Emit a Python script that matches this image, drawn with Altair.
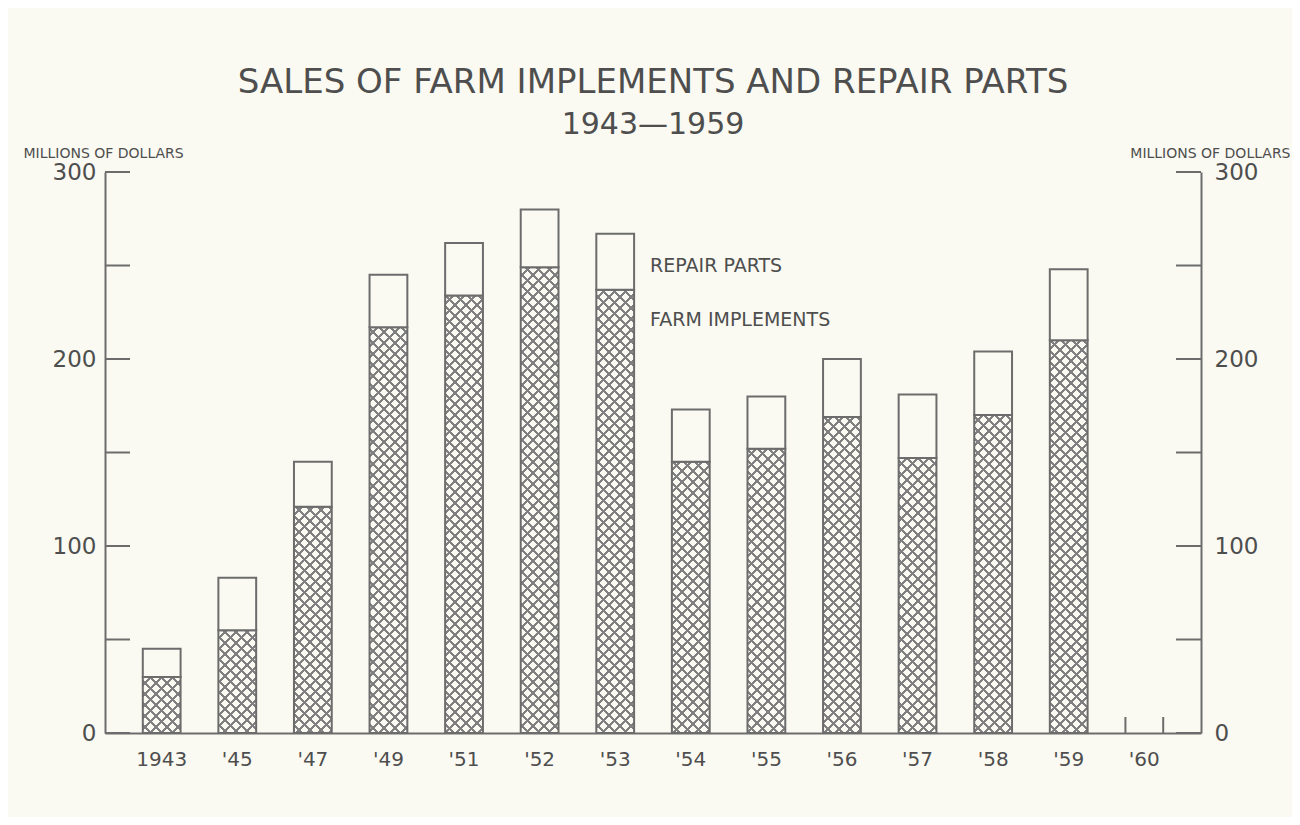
import math
import altair as alt

# ---------------- data ----------------
years = ["1943", "'45", "'47", "'49", "'51", "'52", "'53",
         "'54", "'55", "'56", "'57", "'58", "'59", "'60"]
implements = [30, 55, 121, 217, 234, 249, 237, 145, 152, 169, 147, 170, 210]
repair_parts = [15, 28, 24, 28, 28, 31, 30, 28, 28, 31, 34, 34, 38]
tick_values = [0, 50, 100, 150, 200, 250, 300]
label_values = [0, 100, 200, 300]
note_labels = ["REPAIR PARTS", "FARM IMPLEMENTS"]
note_year = "'53"
note_values = [250, 221]

# ---------------- styling / layout ----------------
W, H = 1096, 561
YMAX = 300
BG = "#fafaf2"
INK = "#6c6c6c"
TEXT = "#4e4e4e"
HATCH = "#808080"
FONT = "DejaVu Sans"

step = W / (len(years) - 0.5 + 1.0)
bw = step * 0.5


def hatch(h_px, direction, base):
    """Diagonal stripe gradient (45 deg in pixel space) for a bar of height h_px."""
    w = bw
    total = w + h_px
    period = 11.0
    hw = 1.5
    stops = [{"offset": 0, "color": base}]
    k = 1
    while True:
        c = k * period - period / 2 + 3
        if c + hw >= total:
            break
        a, b = round((c - hw) / total, 6), round((c + hw) / total, 6)
        stops += [{"offset": a, "color": base}, {"offset": a, "color": HATCH},
                  {"offset": b, "color": HATCH}, {"offset": b, "color": base}]
        k += 1
    stops.append({"offset": 1, "color": base})
    r = h_px / w
    s = (1 + r) / (1 + r * r)
    if direction == 1:
        return {"gradient": "linear", "x1": 0, "y1": 0, "x2": s, "y2": s * r, "stops": stops}
    return {"gradient": "linear", "x1": 0, "y1": 1, "x2": s, "y2": 1 - s * r, "stops": stops}


rows = []
for yr, im, rp in zip(years, implements, repair_parts):
    hpx = im * H / YMAX
    rows.append({"year": yr, "implements": im, "repair": rp,
                 "g1": hatch(hpx, 1, BG), "g2": hatch(hpx, 2, "rgba(0,0,0,0)")})
data = alt.Data(values=rows)

y_scale = alt.Scale(domain=[0, YMAX], nice=False, zero=True)
x_enc = alt.X(
    "year:N",
    sort=years,
    scale=alt.Scale(domain=years, paddingInner=0.5, paddingOuter=0.5),
    axis=alt.Axis(title=None, labelAngle=0, labelFontSize=20, labelColor=TEXT,
                  labelFont=FONT, ticks=False, domainColor=INK, domainWidth=2,
                  labelPadding=16),
)

bars_a = alt.Chart(data).mark_bar(strokeWidth=0).encode(
    x=x_enc,
    y=alt.Y("implements:Q", scale=y_scale, axis=None),
    fill=alt.Fill("g1:N", scale=None),
)
bars_b = alt.Chart(data).mark_bar(stroke=INK, strokeWidth=2).encode(
    x=alt.X("year:N", sort=years),
    y=alt.Y("implements:Q", scale=y_scale, axis=None),
    fill=alt.Fill("g2:N", scale=None),
)
bars_r = alt.Chart(data).mark_bar(fill=BG, stroke=INK, strokeWidth=2).transform_calculate(
    total="datum.implements + datum.repair"
).encode(
    x=alt.X("year:N", sort=years),
    y=alt.Y("total:Q", scale=y_scale, axis=None),
    y2="implements:Q",
)

ticks = alt.Data(values=[{"v": t} for t in tick_values])
left_ticks = alt.Chart(ticks).mark_rule(color=INK, strokeWidth=2).encode(
    y=alt.Y("v:Q", scale=y_scale, axis=alt.Axis(
        orient="left", values=label_values, ticks=False, grid=False,
        domainColor=INK, domainWidth=2, labelFontSize=23, labelColor=TEXT,
        labelFont=FONT, labelPadding=9,
        title="MILLIONS OF DOLLARS", titleAngle=0, titleAlign="left",
        titleX=-82, titleY=-12, titleBaseline="bottom", titleFontSize=14,
        titleFontWeight="normal", titleColor=TEXT, titleFont=FONT)),
    x=alt.value(0), x2=alt.value(25),
)
right_ticks = alt.Chart(ticks).mark_rule(color=INK, strokeWidth=2).encode(
    y=alt.Y("v:Q", scale=y_scale, axis=alt.Axis(
        orient="right", values=label_values, ticks=False, grid=False,
        domainColor=INK, domainWidth=2, labelFontSize=23, labelColor=TEXT,
        labelFont=FONT, labelPadding=13,
        title="MILLIONS OF DOLLARS", titleAngle=0, titleAlign="right",
        titleX=89, titleY=-12, titleBaseline="bottom", titleFontSize=14,
        titleFontWeight="normal", titleColor=TEXT, titleFont=FONT)),
    x=alt.value(W - 25), x2=alt.value(W),
)

empty_year = alt.Data(values=[{"year": years[-1]}])
edge_l = alt.Chart(empty_year).mark_rule(color=INK, strokeWidth=2).encode(
    x=alt.X("year:N", sort=years, bandPosition=0), y=alt.value(H - 16), y2=alt.value(H))
edge_r = alt.Chart(empty_year).mark_rule(color=INK, strokeWidth=2).encode(
    x=alt.X("year:N", sort=years, bandPosition=1), y=alt.value(H - 16), y2=alt.value(H))

notes = alt.Data(values=[{"year": note_year, "label": l, "v": v}
                         for l, v in zip(note_labels, note_values)])
note_text = alt.Chart(notes).mark_text(
    align="left", baseline="middle", fontSize=19, color=TEXT, font=FONT, dx=16
).encode(
    x=alt.X("year:N", sort=years, bandPosition=1),
    y=alt.Y("v:Q", scale=y_scale, axis=None),
    text="label:N",
)

chart = alt.layer(
    bars_a, bars_b, bars_r, left_ticks, right_ticks, edge_l, edge_r, note_text
).resolve_scale(y="independent").properties(
    width=W, height=H,
    autosize=alt.AutoSizeParams(type="none"),
    padding={"left": 97, "top": 164, "right": 91, "bottom": 84},
    background=BG,
    title=alt.TitleParams(
        text="SALES OF FARM IMPLEMENTS AND REPAIR PARTS",
        subtitle="1943—1959",
        font=FONT, subtitleFont=FONT, fontSize=34, subtitleFontSize=30,
        fontWeight="normal", color=TEXT, subtitleColor=TEXT,
        anchor="middle", offset=6, subtitlePadding=10,
    ),
).configure_view(stroke=None)

chart.save("out.html", embed_options={"renderer": "svg", "actions": False})
